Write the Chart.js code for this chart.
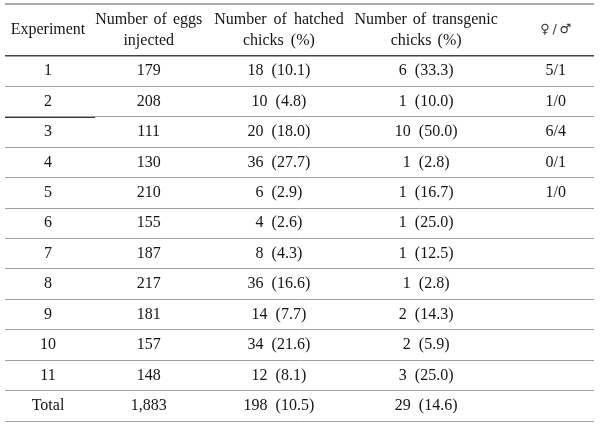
<!DOCTYPE html>
<html>
<head>
<meta charset="utf-8">
<script src="https://cdn.jsdelivr.net/npm/chart.js@4.4.1/dist/chart.umd.min.js"></script>
<style>
  html, body { margin: 0; padding: 0; background: #ffffff; }
  canvas { display: block; }
</style>
</head>
<body>
<canvas id="c" width="604" height="430"></canvas>
<script>
// ---- table data ----
const experiments = ['1', '2', '3', '4', '5', '6', '7', '8', '9', '10', '11', 'Total'];
const eggsInjected = [179, 208, 111, 130, 210, 155, 187, 217, 181, 157, 148, 1883];
const hatched = [18, 10, 20, 36, 6, 4, 8, 36, 14, 34, 12, 198];
const hatchedPct = [10.1, 4.8, 18.0, 27.7, 2.9, 2.6, 4.3, 16.6, 7.7, 21.6, 8.1, 10.5];
const transgenic = [6, 1, 10, 1, 1, 1, 1, 1, 2, 2, 3, 29];
const transgenicPct = [33.3, 10.0, 50.0, 2.8, 16.7, 25.0, 12.5, 2.8, 14.3, 5.9, 25.0, 14.6];
const females = [5, 1, 6, 0, 1, null, null, null, null, null, null, null];
const males = [1, 0, 4, 1, 0, null, null, null, null, null, null, null];
const headers = [
  ['Experiment'],
  ['Number of eggs', 'injected'],
  ['Number of hatched', 'chicks (%)'],
  ['Number of transgenic', 'chicks (%)'],
  ['\u2640\u2009/\u2009\u2642']
];

// ---- layout (percent of table width) ----
const colCenters = [7.3, 24.4, 46.5, 71.5, 93.5];
const FONT = '16px "Liberation Serif", "DejaVu Serif", serif';
const SYMBOL_FONT = '13px "DejaVu Sans", "DejaVu Serif", sans-serif';
const TEXT_COLOR = '#141414';

function cellTexts(i) {
  return [
    experiments[i],
    eggsInjected[i].toLocaleString('en-US'),
    hatched[i] + '  (' + hatchedPct[i].toFixed(1) + ')',
    transgenic[i] + '  (' + transgenicPct[i].toFixed(1) + ')',
    females[i] === null ? '' : females[i] + '/' + males[i]
  ];
}

const tablePlugin = {
  id: 'tablePlugin',
  afterDraw(chart) {
    const ctx = chart.ctx;
    const xs = chart.scales.x;
    const ys = chart.scales.y;
    const area = chart.chartArea;
    ctx.save();
    // top rule
    ctx.strokeStyle = '#a9a9a9';
    ctx.lineWidth = 2;
    ctx.beginPath();
    ctx.moveTo(area.left, 4);
    ctx.lineTo(area.right, 4);
    ctx.stroke();
    // darker partial rule under row 2
    const yRule = Math.round((ys.getPixelForValue(1) + ys.getPixelForValue(2)) / 2) + 0.5;
    ctx.strokeStyle = '#3a3a3a';
    ctx.lineWidth = 1;
    ctx.beginPath();
    ctx.moveTo(area.left, yRule);
    ctx.lineTo(xs.getPixelForValue(15.3), yRule);
    ctx.stroke();

    ctx.fillStyle = TEXT_COLOR;
    ctx.textAlign = 'center';
    ctx.textBaseline = 'middle';
    // headers
    const headTop = 4, headBottom = area.top;
    const headMid = (headTop + headBottom) / 2;
    headers.forEach((lines, c) => {
      const x = xs.getPixelForValue(colCenters[c]);
      const lh = 21;
      const isSym = (c === headers.length - 1);
      ctx.font = isSym ? SYMBOL_FONT : FONT;
      ctx.fillStyle = isSym ? '#333333' : TEXT_COLOR;
      ctx.wordSpacing = (c === 2) ? '3px' : '2px';
      lines.forEach((t, k) => {
        const y = headMid + (k - (lines.length - 1) / 2) * lh;
        ctx.fillText(t, x, y);
      });
    });
    ctx.wordSpacing = '0px';
    ctx.font = FONT;
    ctx.fillStyle = TEXT_COLOR;
    // body
    experiments.forEach((_, i) => {
      const y = ys.getPixelForValue(i);
      cellTexts(i).forEach((t, c) => {
        if (t) ctx.fillText(t, xs.getPixelForValue(colCenters[c]), y);
      });
    });
    ctx.restore();
  }
};

new Chart(document.getElementById('c'), {
  type: 'scatter',
  data: { labels: experiments, datasets: [] },
  options: {
    responsive: false,
    animation: false,
    devicePixelRatio: 1,
    layout: { padding: { top: 56, left: 5, right: 10, bottom: 9 } },
    plugins: { legend: { display: false }, tooltip: { enabled: false } },
    scales: {
      x: { type: 'linear', min: 0, max: 100, display: false },
      y: {
        type: 'category',
        labels: experiments,
        offset: true,
        display: true,
        border: { display: false },
        ticks: { display: false },
        grid: {
          offset: true,
          drawTicks: false,
          tickLength: 0,
          color: (ctx) => (ctx.index === 0 || ctx.index === experiments.length) ? '#444444' : '#a0a0a0',
          lineWidth: (ctx) => (ctx.index === 0 || ctx.index === experiments.length) ? 1.5 : 1
        }
      }
    }
  },
  plugins: [tablePlugin]
});
</script>
</body>
</html>
